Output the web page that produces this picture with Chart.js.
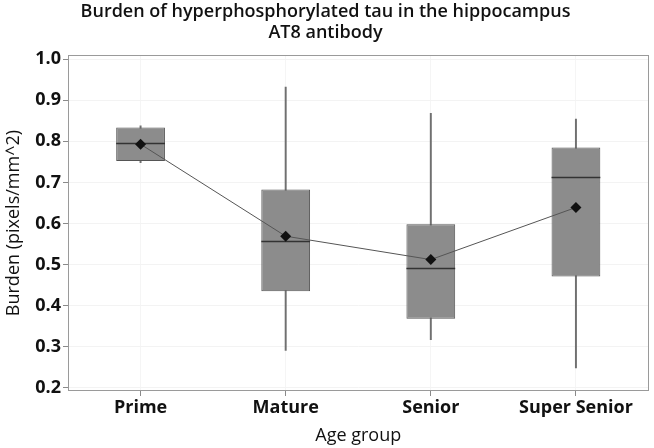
<!DOCTYPE html>
<html>
<head>
<meta charset="utf-8">
<script src="https://cdn.jsdelivr.net/npm/chart.js@4.4.0/dist/chart.umd.min.js"></script>
<style>
  html, body { margin: 0; padding: 0; background: #fff; }
  #wrap { width: 654px; height: 448px; }
</style>
</head>
<body>
<div id="wrap"><canvas id="chart"></canvas></div>
<script>
// box plot values
const ageGroups = ['Prime', 'Mature', 'Senior', 'Super Senior'];
const whiskerLow = [0.748, 0.291, 0.317, 0.248];
const q1 = [0.752, 0.435, 0.368, 0.471];
const median = [0.796, 0.558, 0.492, 0.714];
const q3 = [0.834, 0.683, 0.598, 0.785];
const whiskerHigh = [0.838, 0.932, 0.868, 0.854];
const meanValues = [0.793, 0.569, 0.512, 0.639];
const yTicks = [0.2, 0.3, 0.4, 0.5, 0.6, 0.7, 0.8, 0.9, 1.0];

const boxData = ageGroups.map((_, i) => [q1[i], q3[i]]);
const whiskerData = ageGroups.map((_, i) => [whiskerLow[i], whiskerHigh[i]]);

// median line across each box, drawn right after the boxes
const medianPlugin = {
    id: 'medianLines',
    afterDatasetDraw(chart, args) {
        if (args.index !== 1) return;
        const ctx = chart.ctx;
        const yScale = chart.scales.y;
        ctx.save();
        ctx.strokeStyle = '#333333';
        ctx.lineWidth = 1.3;
        args.meta.data.forEach((bar, i) => {
            const half = bar.width / 2;
            const py = Math.round(yScale.getPixelForValue(median[i])) + 0.5;
            ctx.beginPath();
            ctx.moveTo(bar.x - half, py);
            ctx.lineTo(bar.x + half, py);
            ctx.stroke();
        });
        ctx.restore();
    }
};

// box round the plot area
const framePlugin = {
    id: 'plotFrame',
    beforeDatasetsDraw(chart) {
        const { ctx, chartArea: a } = chart;
        ctx.save();
        ctx.strokeStyle = '#9a9a9a';
        ctx.lineWidth = 1;
        ctx.strokeRect(Math.round(a.left) + 0.5, Math.round(a.top) + 0.5,
            Math.round(a.right - a.left) - 1, Math.round(a.bottom - a.top) - 1);
        ctx.restore();
    }
};

Chart.defaults.font.family = "'Open Sans', sans-serif";
Chart.defaults.color = '#111111';

new Chart(document.getElementById('chart'), {
    type: 'bar',
    data: {
        labels: ageGroups,
        datasets: [
            {
                type: 'line',
                label: 'Mean',
                data: meanValues,
                borderColor: '#555555',
                borderWidth: 1,
                pointStyle: 'rectRot',
                pointRadius: 5.5,
                pointBackgroundColor: '#111111',
                pointBorderColor: '#111111',
                pointBorderWidth: 0,
                tension: 0,
                order: 0
            },
            {
                label: 'Box',
                data: boxData,
                backgroundColor: '#8c8c8c',
                borderColor: '#555555',
                borderWidth: 1,
                borderSkipped: false,
                barPercentage: 0.336,
                categoryPercentage: 1,
                grouped: false,
                order: 1
            },
            {
                label: 'Whisker',
                data: whiskerData,
                backgroundColor: '#707070',
                borderWidth: 0,
                barThickness: 1.3,
                grouped: false,
                order: 2
            }
        ]
    },
    options: {
        responsive: true,
        maintainAspectRatio: false,
        animation: false,
        layout: { padding: { left: 0, right: 3, top: 0, bottom: 0 } },
        plugins: {
            legend: { display: false },
            tooltip: { enabled: false },
            title: {
                display: true,
                text: ['Burden of hyperphosphorylated tau in the hippocampus', 'AT8 antibody'],
                color: '#111111',
                font: { size: 18, weight: '600', lineHeight: 1.17 },
                padding: { top: 1, bottom: 12 }
            }
        },
        scales: {
            x: {
                offset: true,
                border: { display: false },
                grid: {
                    offset: false,
                    color: '#f5f5f5',
                    tickColor: '#8a8a8a',
                    tickLength: 5
                },
                ticks: {
                    font: { size: 18, weight: 'bold' },
                    color: '#111111',
                    padding: 1,
                    maxRotation: 0
                },
                title: {
                    display: true,
                    text: 'Age group',
                    font: { size: 18 },
                    color: '#111111',
                    padding: { top: 0, bottom: 1 }
                },
                afterFit(scale) { scale.height = 57; }
            },
            y: {
                min: 0.192,
                max: 1.01,
                border: { display: false },
                grid: {
                    color: '#f3f3f3',
                    tickColor: '#8a8a8a',
                    tickLength: 5
                },
                ticks: {
                    font: { size: 18, weight: 'bold' },
                    color: '#111111',
                    padding: 2,
                    includeBounds: false,
                    callback: (v) => Number(v).toFixed(1)
                },
                afterBuildTicks(scale) {
                    scale.ticks = yTicks.map(v => ({ value: v }));
                },
                title: {
                    display: true,
                    text: 'Burden (pixels/mm^2)',
                    font: { size: 18 },
                    color: '#111111',
                    padding: { top: 3, bottom: 2 }
                },
                afterFit(scale) { scale.width = 68; }
            }
        }
    },
    plugins: [medianPlugin, framePlugin]
});
</script>
</body>
</html>
